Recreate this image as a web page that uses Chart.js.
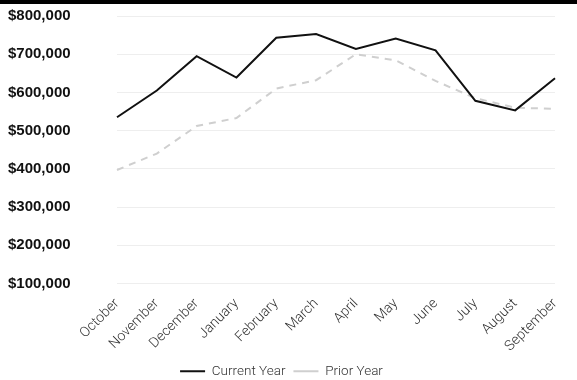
<!DOCTYPE html>
<html><head><meta charset="utf-8">
<script src="https://cdn.jsdelivr.net/npm/chart.js@4"></script>
<style>
html,body{margin:0;padding:0;background:#fff;}
#wrap{position:relative;width:577px;height:380px;}
#bar{position:absolute;left:0;top:0;width:577px;height:4px;background:#000;}
canvas{position:absolute;left:0;top:0;}
</style></head>
<body><div id="wrap"><canvas id="c" width="577" height="380"></canvas><div id="bar"></div></div>
<script>
const months = ["October","November","December","January","February","March","April","May","June","July","August","September"];
const currentYear = [535000,605000,695000,639000,743000,753000,714000,741000,710000,578000,553000,637000];
const priorYear = [397000,440000,512000,533000,610000,632000,700000,684000,630000,585000,560000,557000];
const yMin = 100000, yMax = 800000, yStep = 100000;

new Chart(document.getElementById('c'), {
  type: 'line',
  data: {
    labels: months,
    datasets: [
      {label: 'Current Year', data: currentYear, borderColor: '#111', backgroundColor: '#111', borderWidth: 2, pointRadius: 0, tension: 0},
      {label: 'Prior Year', data: priorYear, borderColor: '#cfcfcf', backgroundColor: '#cfcfcf', borderWidth: 2, borderDash: [7,6], pointRadius: 0, tension: 0}
    ]
  },
  options: {
    responsive: false, animation: false,
    layout: {padding: {top: 16, right: 22, bottom: -8, left: 8}},
    plugins: {
      tooltip: {enabled: false},
      legend: {position: 'bottom', labels: {usePointStyle: true, pointStyle: 'line', pointStyleWidth: 25, boxWidth: 25, color: '#333', font: {family: 'Roboto', weight: 300, size: 13.5}, padding: 8}}
    },
    scales: {
      x: {
        offset: false,
        grid: {display: false}, border: {display: false},
        afterFit: s => { s.height = 73; },
        ticks: {maxRotation: 45, minRotation: 45, color: '#333', padding: 4, font: {family: 'Roboto', weight: 300, size: 14}}
      },
      y: {
        min: yMin, max: yMax,
        grid: {color: '#eeeeee', drawTicks: false}, border: {display: false},
        afterFit: s => { s.width = 109; },
        ticks: {stepSize: yStep, padding: 0, crossAlign: 'far', color: '#111', font: {family: 'Liberation Sans', weight: 'bold', size: 15},
          callback: v => '$' + v.toLocaleString('en-US')}
      }
    }
  }
});
</script></body></html>
